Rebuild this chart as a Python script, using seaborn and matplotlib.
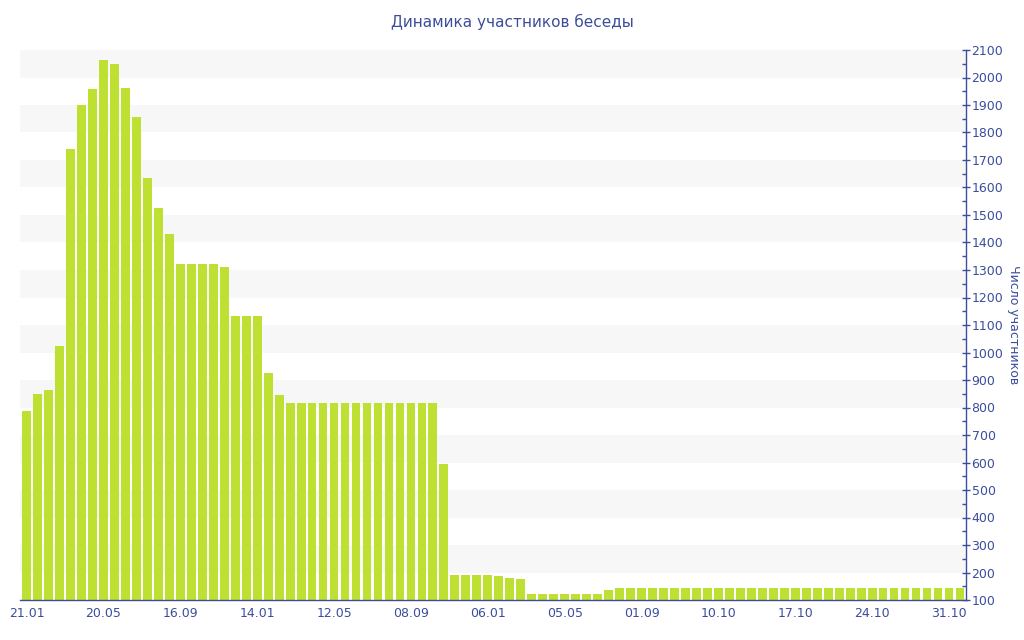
import numpy as np
import pandas as pd
import matplotlib
matplotlib.use("Agg")
import matplotlib.pyplot as plt
import seaborn as sns

# participants per period
members = ([788, 850, 862, 1022, 1740, 1900, 1960, 2065, 2050, 1963, 1855,
            1635, 1526, 1432, 1322, 1322, 1322, 1322, 1310, 1132, 1132, 1132,
            924, 845]
           + [815] * 14
           + [595, 192, 190, 190, 190, 187, 180, 175]
           + [122] * 7
           + [135]
           + [144] * 32)

tick_labels = ["21.01", "20.05", "16.09", "14.01", "12.05", "08.09", "06.01",
               "05.05", "01.09", "10.10", "17.10", "24.10", "31.10"]
tick_step = 7

df = pd.DataFrame({"idx": np.arange(len(members)), "members": members})

blue = "#3b4d9b"
bar_color = "#bde033"

sns.set_style("white")
plt.rcParams["font.family"] = ["DejaVu Sans"]

fig = plt.figure(figsize=(10.24, 6.4), dpi=100)
ax = fig.add_axes([20 / 1024, 40 / 640, 946 / 1024, 550 / 640])

# alternating light bands
for lo in range(200, 2100, 200):
    ax.axhspan(lo, lo + 100, color="#f7f7f7", zorder=0, lw=0)

sns.barplot(data=df, x="idx", y="members", color=bar_color, width=0.8,
            saturation=1, ax=ax, zorder=2, linewidth=0)

ax.set_xlim(-0.6, 85.55)
ax.set_ylim(100, 2100)

ax.yaxis.tick_right()
ax.yaxis.set_label_position("right")
ax.set_yticks(range(100, 2101, 100))
ax.set_yticks(range(150, 2100, 100), minor=True)
ax.tick_params(axis="y", which="major", direction="inout", length=6, width=1,
               color=blue, labelcolor=blue, labelsize=9, pad=1)
ax.tick_params(axis="y", which="minor", direction="in", length=3, width=1,
               color=blue)

ax.set_xticks(range(0, len(members), tick_step))
ax.set_xticklabels(tick_labels)
ax.tick_params(axis="x", direction="out", length=4, width=1, color=blue,
               labelcolor=blue, labelsize=9, pad=1)

ax.set_xlabel("")
ax.set_ylabel("Число участников", color=blue, fontsize=9, rotation=270,
              labelpad=12)

for side in ["top", "left"]:
    ax.spines[side].set_visible(False)
for side in ["right", "bottom"]:
    ax.spines[side].set_color(blue)
    ax.spines[side].set_linewidth(1)

fig.text(0.5, 1 - 22 / 640, "Динамика участников беседы", color=blue,
         fontsize=11, ha="center", va="center")

fig.savefig("out.png", dpi=100)
